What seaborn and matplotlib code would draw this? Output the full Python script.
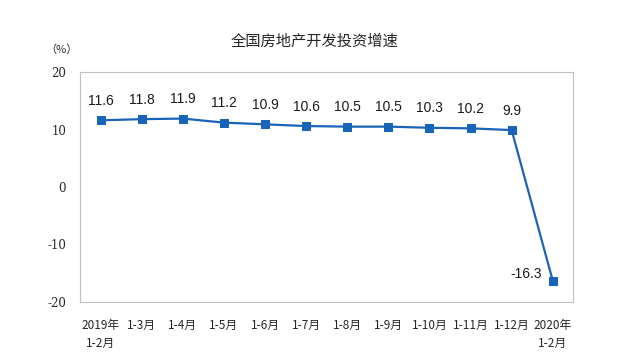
import numpy as np
import pandas as pd
import matplotlib
matplotlib.use("Agg")
import matplotlib.pyplot as plt
import seaborn as sns

# ── Data ────────────────────────────────────────────────────────────────────
periods = ["2019年\n1-2月", "1-3月", "1-4月", "1-5月", "1-6月", "1-7月",
           "1-8月", "1-9月", "1-10月", "1-11月", "1-12月", "2020年\n1-2月"]
growth = [11.6, 11.8, 11.9, 11.2, 10.9, 10.6, 10.5, 10.5, 10.3, 10.2, 9.9, -16.3]
yticks = [-20, -10, 0, 10, 20]

df = pd.DataFrame({"idx": np.arange(len(periods)), "period": periods, "growth": growth})

sns.set_theme(style="white")
plt.rcParams["font.family"] = ["Noto Sans CJK SC", "DejaVu Sans"]

LINE = "#1764B8"
GRAY = "#BFBFBF"

fig = plt.figure(figsize=(6.3, 3.62), dpi=100)
ax = fig.add_axes([0.127, 0.166, 0.783, 0.635])

sns.lineplot(data=df, x="idx", y="growth", ax=ax, color=LINE, linewidth=1.6,
             marker="s", markersize=5.5, markeredgecolor=LINE, markerfacecolor=LINE)

# value labels
for i, v in enumerate(growth):
    if v < 0:
        ax.annotate(f"{v:.1f}", (i, v), xytext=(-8, 5), textcoords="offset points",
                    ha="right", va="center", fontsize=10, family="Liberation Sans",
                    color="#1a1a1a")
    else:
        ax.annotate(f"{v:.1f}", (i, v), xytext=(0, 9), textcoords="offset points",
                    ha="center", va="bottom", fontsize=10, family="Liberation Sans",
                    color="#1a1a1a")

ax.set_xlim(-0.5, len(periods) - 0.5)
ax.set_ylim(-20, 20)
ax.set_yticks(yticks)
ax.set_yticklabels([str(t) for t in yticks], family="DejaVu Serif", fontsize=8.5)
ax.set_xticks(np.arange(len(periods)))
ax.set_xticklabels(periods, fontsize=8.5, linespacing=1.5)
ax.set_xticks(np.arange(len(periods) + 1) - 0.5, minor=True)
ax.tick_params(axis="x", which="major", length=0, pad=12)
ax.tick_params(axis="x", which="minor", length=3, direction="in", color=GRAY, width=0.8)
ax.tick_params(axis="y", length=0, pad=10)
ax.set_xlabel("")
ax.set_ylabel("")

for s in ax.spines.values():
    s.set_color(GRAY)
    s.set_linewidth(0.8)

fig.text(0.5, 0.885, "全国房地产开发投资增速", ha="center", va="center", fontsize=11)
fig.text(0.097, 0.862, "（%）", ha="center", va="center", fontsize=8)

fig.savefig("out.png", dpi=100)
